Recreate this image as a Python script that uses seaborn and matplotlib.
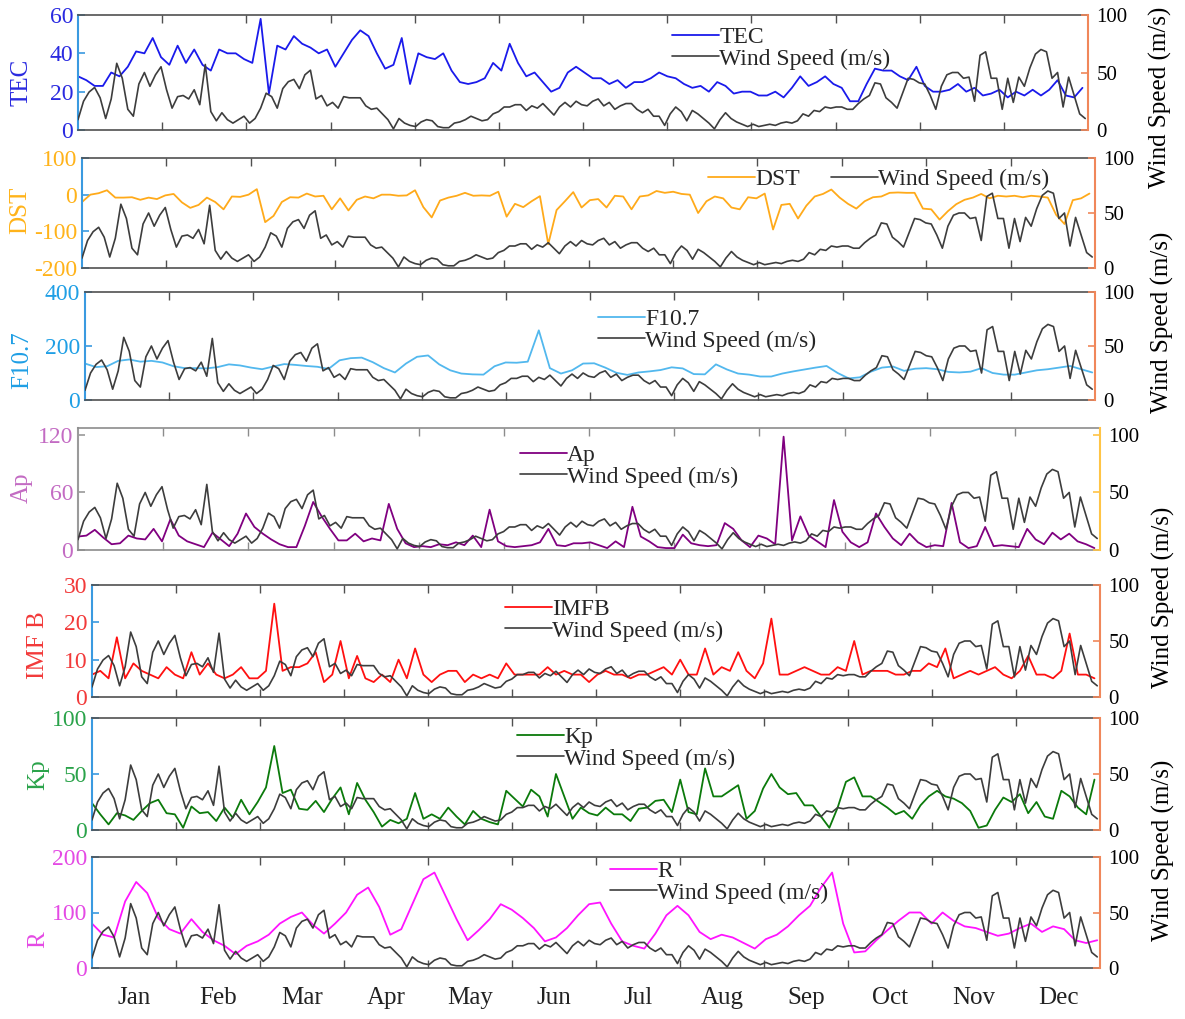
import numpy as np
import matplotlib
matplotlib.use("Agg")
import matplotlib.pyplot as plt
import seaborn as sns

sns.set_style("white")
plt.rcParams["font.family"] = ["Liberation Serif", "DejaVu Serif"]
plt.rcParams["axes.unicode_minus"] = False

# ---------------- data ----------------
MONTHS = ["Jan", "Feb", "Mar", "Apr", "May", "Jun",
          "Jul", "Aug", "Sep", "Oct", "Nov", "Dec"]

# wind speed (m/s), one value every 2 days
WIND_STEP = 2
wind_speed = [
    9, 25, 33, 37, 28, 10, 27, 58, 45, 18,
    12, 40, 50, 38, 48, 55, 35, 19, 29, 30,
    27, 35, 22, 57, 16, 8, 15, 9, 6, 9,
    12, 6, 10, 19, 32, 29, 19, 36, 42, 44,
    36, 48, 52, 27, 30, 21, 24, 19, 29, 28,
    28, 28, 21, 18, 19, 14, 9, 1, 10, 6,
    4, 3, 7, 9, 8, 3, 2, 2, 6, 7,
    9, 12, 10, 8, 9, 14, 16, 20, 20, 22,
    22, 17, 21, 19, 23, 18, 13, 20, 24, 20,
    25, 22,
    21, 25, 27, 21, 24, 18, 21, 23, 23, 18,
    15, 18, 12, 12, 4, 14, 20, 16, 8, 17,
    14, 10, 6, 1, 9, 15, 10, 7, 5, 3,
    5, 3, 4, 5, 4, 6, 7, 6, 8, 14,
    12, 17, 16, 20, 19, 20, 20, 18, 18, 23,
    27, 30, 41, 40, 28, 24, 19, 32, 45, 44,
    41, 40, 30, 18, 38, 48, 50, 50, 45, 46,
    25, 65, 68, 45, 45, 18, 45, 24, 46, 38,
    54, 66, 70, 68, 45, 50, 20, 46, 30, 14,
    10,
]

# TEC, every 3 days
TEC_STEP = 3
tec = [
    28, 26, 23, 23, 30, 28, 33, 41, 40, 48,
    38, 34, 44, 35, 42, 34, 31, 42, 40, 40,
    37, 35, 58, 19, 44, 42, 49, 45, 43, 40,
    42, 33, 40, 47, 52, 49, 40, 32, 34, 48,
    24, 40, 38, 37, 40, 31, 25, 24, 25, 27,
    35, 31, 45, 35, 28, 30, 25, 20, 22, 30,
    33, 30, 27, 27, 24, 26, 22, 25, 25, 27,
    30, 28, 27, 24, 22, 23, 20, 25, 23, 19,
    20, 20, 18, 18, 20, 17, 22, 28, 23, 25,
    28, 24, 22, 15, 15, 24, 32, 31, 31, 28,
    26, 33, 23, 20, 20, 21, 24, 20, 22, 18,
    19, 21, 17, 20, 18, 21, 18, 21, 26, 18,
    17, 22,
]

# DST, every 3 days
DST_STEP = 3
dst = [
    -20, 0, 4, 12, -8, -8, -7, -14, -8, -12,
    -2, 2, -21, -36, -28, -8, -20, -40, -5, -6,
    0, 15, -75, -58, -20, -7, -8, 3, -5, -3,
    -40, -10, -43, -14, -5, -10, 0, 0, -3, -2,
    12, -34, -62, -16, -8, -3, 5, -3, -2, -3,
    8, -60, -25, -34, -18, -4, -135, -42, -18, 7,
    -35, -15, -12, -35, -3, -5, -40, -5, -2, 10,
    5, 8, 2, 0, -50, -18, -5, -10, -35, -40,
    -7, -10, 3, -95, -28, -25, -65, -30, -5, 2,
    14, -8, -25, -38, -18, -7, -5, 5, 6, 5,
    5, -38, -40, -68, -45, -26, -14, -8, 2, -10,
    -3, -5, -3, -7, -3, -5, -8, -55, -80, -15,
    -10, 3,
]

# F10.7, every 4 days
F107_STEP = 4
f107 = [
    135, 122, 125, 145, 150, 142, 145, 139, 125, 118,
    118, 117, 122, 132, 128, 120, 114, 124, 133, 130,
    126, 123, 115, 147, 155, 157, 140, 118, 102, 135,
    160, 165, 132, 110, 98, 95, 94, 125, 139, 138,
    142, 258, 118, 98, 110, 135, 136, 120, 101, 93,
    102, 106, 111, 121, 117, 96, 95, 132, 113, 98,
    94, 87, 87, 98, 106, 113, 120, 126, 100, 80,
    84, 105, 120, 124, 108, 116, 118, 114, 104, 102,
    105, 118, 100, 94, 94, 102, 110, 114, 120, 126,
    114, 102,
]

# Ap, every 3 days
AP_STEP = 3
ap = [
    14, 15, 21, 13, 6, 7, 15, 12, 11, 22,
    9, 32, 15, 9, 6, 3, 18, 11, 4, 17,
    38, 24, 17, 11, 6, 3, 3, 25, 50, 35,
    22, 10, 10, 17, 9, 12, 10, 48, 22, 7,
    3, 4, 3, 6, 5, 8, 5, 15, 3, 42,
    9, 4, 3, 4, 5, 8, 22, 5, 4, 7,
    7, 8, 5, 2, 9, 3, 45, 14, 9, 3,
    2, 2, 16, 7, 5, 4, 5, 28, 22, 10,
    3, 15, 12, 6, 118, 10, 35, 15, 9, 3,
    52, 19, 8, 3, 8, 38, 24, 12, 5, 17,
    8, 3, 5, 4, 49, 8, 2, 4, 24, 4,
    5, 4, 3, 22, 11, 6, 18, 11, 17, 9,
    6, 2,
]

# IMF B, every 3 days
IMF_STEP = 3
imf_b = [
    6, 7, 5, 16, 5, 9, 7, 6, 5, 8,
    6, 5, 12, 6, 9, 6, 5, 6, 8, 5,
    5, 7, 25, 7, 8, 8, 9, 12, 4, 6,
    15, 5, 11, 5, 4, 6, 4, 10, 5, 13,
    6, 4, 6, 7, 7, 4, 6, 5, 6, 5,
    9, 6, 6, 6, 6, 8, 6, 7, 6, 6,
    4, 6, 7, 6, 6, 5, 6, 6, 7, 8,
    6, 10, 6, 6, 13, 6, 8, 7, 12, 7,
    5, 9, 21, 6, 6, 7, 8, 7, 6, 6,
    8, 7, 15, 6, 7, 7, 7, 6, 6, 7,
    7, 9, 8, 13, 5, 6, 7, 6, 7, 8,
    6, 5, 7, 11, 6, 6, 5, 7, 17, 6,
    6, 5,
]

# Kp, every 3 days
KP_STEP = 3
kp = [
    24, 14, 5, 15, 13, 9, 17, 24, 27, 15,
    14, 2, 21, 15, 16, 8, 20, 11, 27, 14,
    25, 38, 75, 33, 36, 19, 18, 26, 16, 28,
    38, 14, 42, 27, 16, 3, 9, 6, 10, 33,
    10, 14, 10, 20, 12, 5, 17, 10, 7, 5,
    35, 28, 21, 36, 30, 12, 50, 30, 10, 20,
    15, 13, 20, 14, 14, 8, 19, 20, 26, 27,
    16, 45, 16, 14, 55, 30, 30, 35, 40, 10,
    17, 37, 50, 38, 32, 33, 22, 22, 12, 2,
    20, 43, 47, 30, 30, 25, 20, 14, 17, 10,
    22, 30, 35, 30, 28, 24, 17, 2, 4, 18,
    29, 25, 32, 15, 25, 12, 10, 35, 30, 20,
    14, 45,
]

# R (sunspot number), every 4 days
R_STEP = 4
r_index = [
    80, 60, 55, 120, 155, 135, 90, 70, 62, 88,
    65, 50, 40, 25, 40, 48, 60, 80, 92, 100,
    78, 62, 80, 100, 132, 145, 110, 60, 70, 115,
    160, 172, 130, 88, 50, 68, 88, 115, 105, 90,
    72, 48, 55, 72, 95, 115, 118, 80, 48, 40,
    35, 62, 95, 112, 95, 65, 52, 60, 55, 45,
    35, 52, 60, 75, 95, 112, 145, 172, 80, 28,
    30, 50, 68, 85, 100, 100, 80, 100, 85, 75,
    72, 65, 58, 62, 72, 80, 65, 75, 70, 50,
    45, 50,
]

WIND_LABEL = "Wind Speed (m/s)"

# ---------------- layout / style ----------------
W, H = 1185, 1019
fig = plt.figure(figsize=(W / 100, H / 100), dpi=100)

panels = [
    dict(name="TEC", ylabel="TEC", vals=tec, step=TEC_STEP, ylim=(0, 60), yticks=[0, 20, 40, 60],
         rlim=(0, 100), line="#1a1aeb", lab="#2a2ae0", lsp="#3a9ae0", rsp="#f0875a", frame="#505050",
         box=(78, 15, 1088, 130), ylab=(22, 82), leg=(672, 48), ncol=1, rlab=(1160, 97)),
    dict(name="DST", ylabel="DST", vals=dst, step=DST_STEP, ylim=(-200, 100), yticks=[-200, -100, 0, 100],
         rlim=(0, 100), line="#ffaa1a", lab="#ffb31a", lsp="#3a9ae0", rsp="#f0875a", frame="#505050",
         box=(82, 158, 1095, 268), ylab=(20, 210), leg=(708, 179), ncol=2, rlab=None),
    dict(name="F10.7", ylabel="F10.7", vals=f107, step=F107_STEP, ylim=(0, 400), yticks=[0, 200, 400],
         rlim=(0, 100), line="#52b8ee", lab="#1f9fe5", lsp="#3a9ae0", rsp="#f0875a", frame="#505050",
         box=(85, 292, 1095, 400), ylab=(22, 360), leg=(598, 330), ncol=1, rlab=(1162, 322)),
    dict(name="Ap", ylabel="Ap", vals=ap, step=AP_STEP, ylim=(0, 127), yticks=[0, 60, 120],
         rlim=(0, 106), line="#800080", lab="#c36bc3", lsp="#9a9a9a", rsp="#ffc445", frame="#8c8c8c",
         box=(78, 428, 1100, 550), ylab=(22, 488), leg=(520, 466), ncol=1, rlab=None),
    dict(name="IMFB", ylabel="IMF B", vals=imf_b, step=IMF_STEP, ylim=(0, 30), yticks=[0, 10, 20, 30],
         rlim=(0, 100), line="#ff1010", lab="#f23a3a", lsp="#3a9ae0", rsp="#f0875a", frame="#505050",
         box=(92, 585, 1100, 697), ylab=(38, 645), leg=(505, 620), ncol=1, rlab=(1163, 597)),
    dict(name="Kp", ylabel="Kp", vals=kp, step=KP_STEP, ylim=(0, 100), yticks=[0, 50, 100],
         rlim=(0, 100), line="#0b7a0b", lab="#2aa34a", lsp="#3a9ae0", rsp="#f0875a", frame="#505050",
         box=(92, 718, 1100, 830), ylab=(38, 775), leg=(517, 748), ncol=1, rlab=None),
    dict(name="R", ylabel="R", vals=r_index, step=R_STEP, ylim=(0, 200), yticks=[0, 100, 200],
         rlim=(0, 100), line="#ff14ff", lab="#e44ae4", lsp="#3a9ae0", rsp="#f0875a", frame="#505050",
         box=(92, 857, 1100, 968), ylab=(38, 940), leg=(610, 882), ncol=1, rlab=(1163, 850)),
]

YEAR = 365.0
month_edges = np.arange(1, 12) * YEAR / 12
month_mids = (np.arange(12) + 0.5) * YEAR / 12
wind_days = np.arange(len(wind_speed)) * WIND_STEP

for i, p in enumerate(panels):
    l, t, r, b = p["box"]
    ax = fig.add_axes([l / W, 1 - b / H, (r - l) / W, (b - t) / H])
    ax2 = ax.twinx()
    days = np.arange(len(p["vals"])) * p["step"]
    sns.lineplot(x=days, y=p["vals"], ax=ax, color=p["line"], linewidth=1.3,
                 legend=False, label=p["name"])
    sns.lineplot(x=wind_days, y=wind_speed, ax=ax2, color="#3d3d3d", linewidth=1.2,
                 legend=False, label=WIND_LABEL)
    ax.set_xlim(0, YEAR)
    ax.set_ylim(*p["ylim"])
    ax2.set_ylim(*p["rlim"])
    ax.set_yticks(p["yticks"])
    ax2.set_yticks([0, 50, 100])
    ax.set_xlabel("")
    ax2.set_xlabel("")

    # spines
    for sp in ("top", "bottom"):
        ax.spines[sp].set_color(p["frame"])
        ax.spines[sp].set_linewidth(1.2)
    ax.spines["left"].set_color(p["lsp"])
    ax.spines["left"].set_linewidth(1.5)
    ax.spines["right"].set_visible(False)
    for sp in ("left", "top", "bottom"):
        ax2.spines[sp].set_visible(False)
    ax2.spines["right"].set_color(p["rsp"])
    ax2.spines["right"].set_linewidth(1.5)

    # ticks
    ax.set_xticks(month_edges)
    ax.tick_params(axis="x", which="major", direction="in", length=6, width=1,
                   color=p["frame"], top=True, bottom=True, labelbottom=False)
    ax.tick_params(axis="y", direction="in", length=5, width=1.2, left=True,
                   color=p["lsp"], labelcolor=p["lab"], labelsize=17)
    ax2.tick_params(axis="y", direction="in", length=5, width=1.2, right=True,
                    color=p["rsp"], labelcolor="black", labelsize=15, pad=6)

    # left label
    ax.set_ylabel(p["ylabel"], color=p["lab"], fontsize=18)
    ax.yaxis.label.set_verticalalignment("center")
    ax.yaxis.label.set_horizontalalignment("center")
    ax.yaxis.set_label_coords(p["ylab"][0] / W, 1 - p["ylab"][1] / H, transform=fig.transFigure)

    # right label (only the visible ones)
    if p["rlab"] is not None:
        ax2.set_ylabel(WIND_LABEL, color="black", fontsize=18)
        ax2.yaxis.label.set_verticalalignment("center")
        ax2.yaxis.label.set_horizontalalignment("center")
        ax2.yaxis.set_label_coords(p["rlab"][0] / W, 1 - p["rlab"][1] / H, transform=fig.transFigure)
    else:
        ax2.set_ylabel("")

    # legend
    h1 = ax.get_lines()[0]
    h2 = ax2.get_lines()[0]
    ax2.legend([h1, h2], [p["name"], WIND_LABEL], loc="center left",
               bbox_to_anchor=(p["leg"][0] / W, 1 - p["leg"][1] / H),
               bbox_transform=fig.transFigure, frameon=False, fontsize=17,
               handlelength=2.0, handletextpad=0.0, labelspacing=0.0,
               borderpad=0, borderaxespad=0, ncol=p["ncol"], columnspacing=1.3)

    if i == len(panels) - 1:
        ax.set_xticks(month_mids, minor=True)
        ax.set_xticklabels(MONTHS, minor=True)
        ax.tick_params(axis="x", which="minor", length=0, labelbottom=True,
                       labelsize=18, pad=14, labelcolor="#222222")

fig.savefig("out.png", dpi=100)
